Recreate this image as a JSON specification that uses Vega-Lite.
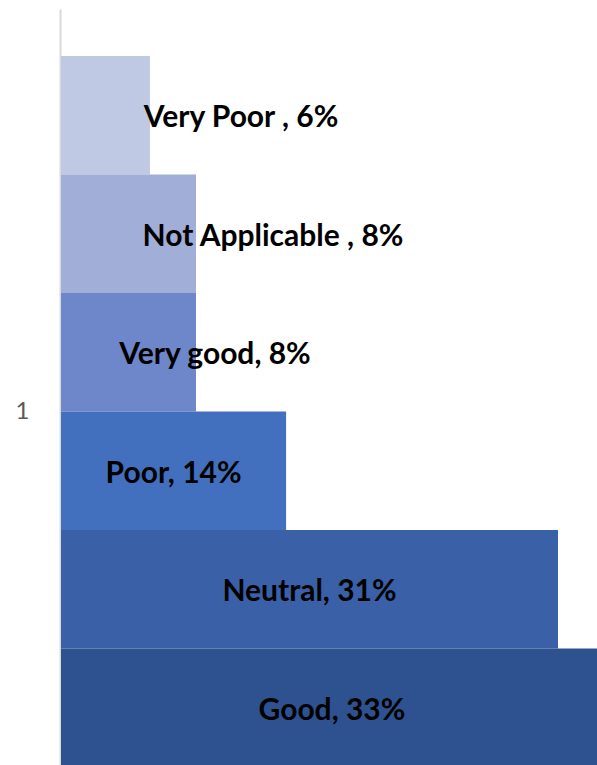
{
  "$schema": "https://vega.github.io/schema/vega-lite/v6.json",
  "autosize": "none",
  "padding": {"left": 61, "top": 9, "right": 0, "bottom": 0},
  "width": 560,
  "height": 805,
  "background": "white",
  "config": {"view": {"stroke": null}},
  "data": {
    "values": [
      {"cat": "Very Poor", "value": 5.55, "label": "Very Poor , 6%"},
      {"cat": "Not Applicable", "value": 8.42, "label": "Not Applicable , 8%"},
      {"cat": "Very good", "value": 8.42, "label": "Very good, 8%"},
      {"cat": "Poor", "value": 14.04, "label": "Poor, 14%"},
      {"cat": "Neutral", "value": 31.0, "label": "Neutral, 31%"},
      {"cat": "Good", "value": 33.8, "label": "Good, 33%"}
    ]
  },
  "encoding": {
    "y": {
      "field": "cat",
      "type": "nominal",
      "sort": ["Very Poor", "Not Applicable", "Very good", "Poor", "Neutral", "Good"],
      "scale": {"paddingInner": 0, "paddingOuter": 0.397},
      "axis": {
        "title": "1",
        "labels": false,
        "ticks": false,
        "offset": 1,
        "domainColor": "#d9d9d9",
        "domainWidth": 2,
        "titleAngle": 0,
        "titleX": -38,
        "titleY": 402.5,
        "titleAlign": "center",
        "titleBaseline": "middle",
        "titleFont": "Lato",
        "titleFontSize": 24,
        "titleFontWeight": "normal",
        "titleColor": "#595959"
      }
    }
  },
  "layer": [
    {
      "mark": {"type": "bar", "orient": "horizontal"},
      "encoding": {
        "x": {"field": "value", "type": "quantitative", "scale": {"domain": [0, 34.93]}, "axis": null},
        "color": {
          "field": "cat",
          "type": "nominal",
          "scale": {
            "domain": ["Very Poor", "Not Applicable", "Very good", "Poor", "Neutral", "Good"],
            "range": ["#bfc9e4", "#a0aed8", "#6e87ca", "#4270be", "#3a60a8", "#2e528f"]
          },
          "legend": null
        }
      }
    },
    {
      "transform": [{"filter": "datum.cat == 'Poor' || datum.cat == 'Neutral' || datum.cat == 'Good'"}],
      "mark": {"type": "text", "font": "Lato", "fontSize": 30, "fontWeight": "bold", "color": "black", "align": "center", "baseline": "middle", "dy": 3},
      "encoding": {
        "x": {"field": "value", "type": "quantitative", "scale": {"domain": [0, 69.86]}, "axis": null},
        "text": {"field": "label"}
      }
    },
    {
      "transform": [{"filter": "datum.cat == 'Very Poor'"}],
      "mark": {"type": "text", "font": "Lato", "fontSize": 30, "fontWeight": "bold", "color": "black", "align": "center", "baseline": "middle", "dy": 3, "dx": 135.5},
      "encoding": {
        "x": {"field": "value", "type": "quantitative", "scale": {"domain": [0, 69.86]}, "axis": null},
        "text": {"field": "label"}
      }
    },
    {
      "transform": [{"filter": "datum.cat == 'Not Applicable'"}],
      "mark": {"type": "text", "font": "Lato", "fontSize": 30, "fontWeight": "bold", "color": "black", "align": "center", "baseline": "middle", "dy": 3, "dx": 144.5},
      "encoding": {
        "x": {"field": "value", "type": "quantitative", "scale": {"domain": [0, 69.86]}, "axis": null},
        "text": {"field": "label"}
      }
    },
    {
      "transform": [{"filter": "datum.cat == 'Very good'"}],
      "mark": {"type": "text", "font": "Lato", "fontSize": 30, "fontWeight": "bold", "color": "black", "align": "center", "baseline": "middle", "dy": 3, "dx": 86.5},
      "encoding": {
        "x": {"field": "value", "type": "quantitative", "scale": {"domain": [0, 69.86]}, "axis": null},
        "text": {"field": "label"}
      }
    }
  ],
  "resolve": {"scale": {"x": "independent"}}
}
